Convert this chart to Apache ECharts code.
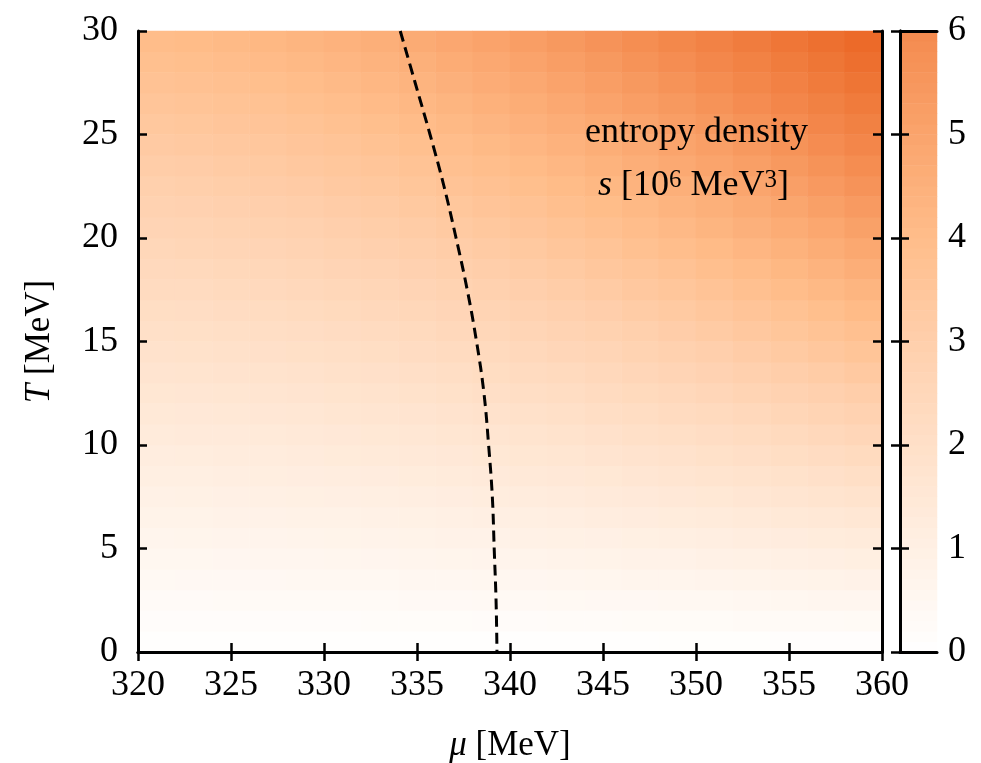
<!DOCTYPE html>
<html>
<head>
<meta charset="utf-8">
<script src="https://cdn.jsdelivr.net/npm/echarts@6/dist/echarts.min.js"></script>
<style>html,body{margin:0;padding:0;background:#fff}#c{width:981px;height:763px}</style>
</head>
<body>
<div id="c"></div>
<script>
// ---- data ----
// heatmap cell centres (mu in MeV, 2 MeV wide; T in MeV, 1 MeV high)
const muCenters = [321,323,325,327,329,331,333,335,337,339,341,343,345,347,349,351,353,355,357,359];
const tCenters = [0.5,1.5,2.5,3.5,4.5,5.5,6.5,7.5,8.5,9.5,10.5,11.5,12.5,13.5,14.5,15.5,16.5,17.5,18.5,19.5,
                  20.5,21.5,22.5,23.5,24.5,25.5,26.5,27.5,28.5,29.5];
// entropy density s [10^6 MeV^3]; one row per mu centre, values for T = 0.5 ... 29.5
const sByMu = [
 [0.06,0.18,0.31,0.43,0.55,0.68,0.81,0.94,1.06,1.19,1.32,1.46,1.59,1.72,1.86,1.99,2.13,2.27,2.41,2.55,2.69,2.83,2.97,3.12,3.26,3.41,3.56,3.70,3.85,4.00],
 [0.06,0.19,0.31,0.44,0.56,0.69,0.82,0.95,1.08,1.21,1.35,1.48,1.61,1.75,1.89,2.02,2.16,2.30,2.44,2.59,2.73,2.87,3.02,3.16,3.31,3.46,3.61,3.76,3.91,4.06],
 [0.06,0.19,0.32,0.45,0.57,0.71,0.84,0.97,1.10,1.24,1.37,1.51,1.65,1.79,1.92,2.07,2.21,2.35,2.49,2.64,2.78,2.93,3.08,3.23,3.37,3.53,3.68,3.83,3.98,4.14],
 [0.06,0.19,0.32,0.46,0.59,0.72,0.86,0.99,1.13,1.26,1.40,1.54,1.68,1.82,1.97,2.11,2.25,2.40,2.55,2.69,2.84,2.99,3.14,3.29,3.45,3.60,3.75,3.91,4.07,4.22],
 [0.07,0.20,0.33,0.47,0.60,0.74,0.88,1.02,1.16,1.30,1.44,1.58,1.73,1.87,2.02,2.16,2.31,2.46,2.61,2.76,2.91,3.07,3.22,3.38,3.53,3.69,3.85,4.01,4.17,4.33],
 [0.07,0.20,0.34,0.48,0.62,0.76,0.90,1.05,1.19,1.34,1.48,1.63,1.78,1.92,2.07,2.22,2.38,2.53,2.68,2.84,2.99,3.15,3.31,3.47,3.63,3.79,3.95,4.11,4.28,4.44],
 [0.07,0.21,0.35,0.50,0.64,0.79,0.93,1.08,1.23,1.38,1.53,1.68,1.83,1.98,2.14,2.29,2.45,2.61,2.76,2.92,3.08,3.25,3.41,3.57,3.73,3.90,4.07,4.23,4.40,4.57],
 [0.07,0.22,0.37,0.51,0.66,0.81,0.96,1.12,1.27,1.42,1.58,1.73,1.89,2.05,2.21,2.37,2.53,2.69,2.86,3.02,3.18,3.35,3.52,3.69,3.85,4.03,4.20,4.37,4.54,4.72],
 [0.08,0.23,0.38,0.53,0.69,0.84,1.00,1.16,1.31,1.47,1.63,1.80,1.96,2.12,2.29,2.45,2.62,2.79,2.95,3.12,3.29,3.46,3.64,3.81,3.98,4.16,4.34,4.51,4.69,4.87],
 [0.08,0.24,0.39,0.55,0.71,0.87,1.04,1.20,1.36,1.53,1.69,1.86,2.03,2.20,2.37,2.54,2.71,2.88,3.06,3.23,3.41,3.59,3.77,3.94,4.12,4.31,4.49,4.67,4.85,5.04],
 [0.08,0.24,0.41,0.57,0.74,0.91,1.08,1.25,1.42,1.59,1.76,1.93,2.11,2.28,2.46,2.64,2.82,3.00,3.18,3.36,3.54,3.72,3.91,4.09,4.28,4.47,4.65,4.84,5.03,5.23],
 [0.08,0.25,0.43,0.60,0.77,0.95,1.12,1.30,1.47,1.65,1.83,2.01,2.19,2.37,2.56,2.74,2.93,3.11,3.30,3.49,3.68,3.87,4.06,4.25,4.44,4.64,4.83,5.03,5.23,5.42],
 [0.09,0.27,0.44,0.62,0.80,0.98,1.17,1.35,1.53,1.72,1.91,2.09,2.28,2.47,2.66,2.85,3.04,3.24,3.43,3.63,3.82,4.02,4.22,4.42,4.62,4.82,5.02,5.23,5.43,5.64],
 [0.09,0.28,0.46,0.65,0.84,1.03,1.22,1.41,1.60,1.79,1.99,2.18,2.38,2.57,2.77,2.97,3.17,3.37,3.57,3.78,3.98,4.18,4.39,4.60,4.81,5.01,5.22,5.44,5.65,5.86],
 [0.10,0.29,0.48,0.68,0.87,1.07,1.27,1.47,1.67,1.87,2.07,2.27,2.48,2.68,2.89,3.10,3.30,3.51,3.72,3.93,4.15,4.36,4.57,4.79,5.00,5.22,5.44,5.66,5.88,6.10],
 [0.10,0.30,0.50,0.71,0.91,1.12,1.32,1.53,1.74,1.95,2.16,2.37,2.58,2.80,3.01,3.23,3.44,3.66,3.88,4.10,4.32,4.54,4.76,4.99,5.21,5.44,5.66,5.89,6.12,6.35],
 [0.10,0.32,0.53,0.74,0.95,1.17,1.38,1.60,1.82,2.04,2.26,2.48,2.70,2.92,3.14,3.37,3.59,3.82,4.05,4.28,4.51,4.74,4.97,5.20,5.44,5.67,5.91,6.14,6.38,6.62],
 [0.11,0.33,0.55,0.77,1.00,1.22,1.45,1.67,1.90,2.13,2.36,2.59,2.82,3.05,3.28,3.52,3.75,3.99,4.22,4.46,4.70,4.94,5.18,5.42,5.67,5.91,6.16,6.40,6.65,6.90],
 [0.11,0.34,0.58,0.81,1.04,1.27,1.51,1.75,1.98,2.22,2.46,2.70,2.94,3.18,3.43,3.67,3.91,4.16,4.41,4.66,4.90,5.15,5.41,5.66,5.91,6.16,6.42,6.68,6.93,7.19],
 [0.12,0.36,0.60,0.84,1.09,1.33,1.58,1.82,2.07,2.32,2.57,2.82,3.07,3.32,3.58,3.83,4.09,4.34,4.60,4.86,5.12,5.38,5.64,5.90,6.17,6.43,6.70,6.96,7.23,7.50]
];
// dashed phase-boundary line
const lineMu = [334.1,334.9,335.7,336.45,337.1,337.7,338.2,338.6,338.85,339.05,339.15,339.25,339.3];
const lineT  = [30,27.5,25,22.5,20,17.5,15,12.5,10,7.5,5,2.5,0];
// colour bar levels
const cbLevels = [0.05,0.15,0.25,0.35,0.45,0.55,0.65,0.75,0.85,0.95,1.05,1.15,1.25,1.35,1.45,1.55,1.65,1.75,1.85,1.95,
 2.05,2.15,2.25,2.35,2.45,2.55,2.65,2.75,2.85,2.95,3.05,3.15,3.25,3.35,3.45,3.55,3.65,3.75,3.85,3.95,
 4.05,4.15,4.25,4.35,4.45,4.55,4.65,4.75,4.85,4.95,5.05,5.15,5.25,5.35,5.45,5.55,5.65,5.75,5.85,5.95];
const xTicks = {min:320, max:360, interval:5};
const yTicks = {min:0, max:30, interval:5};
const cbTicks = {min:0, max:6, interval:1};

// ---- chart ----
const FONT = 'Liberation Serif';
const FS = 36;
const FN = 35;
const heatData = [];
for (let i = 0; i < muCenters.length; i++)
  for (let j = 0; j < tCenters.length; j++) heatData.push([i, j, sByMu[i][j]]);
const cbData = cbLevels.map((v, i) => [0, i, v]);
const lineData = lineMu.map((m, i) => [m, lineT[i]]);

const tickIn = {show:true, inside:true, length:9, lineStyle:{color:'#000', width:2.5}};
const axLine = {show:true, lineStyle:{color:'#000', width:3}};
const lab = {color:'#000', fontFamily:FONT, fontSize:FS};
const G = {left:138, top:31, width:744, height:621, outerBoundsMode:'none', containLabel:false};
const CB = {left:900, top:31, width:37, height:621, outerBoundsMode:'none', containLabel:false};
const nameStyle = {color:'#000', fontFamily:FONT, fontSize:FN,
  rich:{i:{fontStyle:'italic', fontFamily:FONT, fontSize:FN, color:'#000'}}};

const chart = echarts.init(document.getElementById('c'), null, {renderer:'canvas'});
chart.setOption({
  animation:false,
  backgroundColor:'#fff',
  grid:[Object.assign({show:false}, G), Object.assign({show:false}, G), Object.assign({show:false}, CB)],
  visualMap:{type:'continuous', show:false, min:0, max:8, dimension:2, seriesIndex:[0,2],
    inRange:{color:['#ffffff','#fff0e4','#ffe0c8','#ffcfac','#ffbd8a','#faa46c','#f48a4e','#ee7434','#e95f1e']}},
  xAxis:[
    {gridIndex:0, type:'category', data:muCenters, show:false},
    {gridIndex:1, type:'value', min:xTicks.min, max:xTicks.max, interval:xTicks.interval, position:'bottom', z:10,
      axisLine:axLine, axisTick:tickIn, splitLine:{show:false},
      axisLabel:Object.assign({margin:16}, lab),
      name:'{i|μ} [MeV]', nameLocation:'middle', nameGap:76, nameTextStyle:nameStyle},
    {gridIndex:1, type:'value', min:xTicks.min, max:xTicks.max, interval:xTicks.interval, position:'top', z:10,
      axisLine:axLine, axisTick:tickIn, splitLine:{show:false}, axisLabel:{show:false}},
    {gridIndex:2, type:'category', data:['c'], show:false},
    {gridIndex:2, type:'value', min:0, max:1, position:'bottom', z:10, axisLine:axLine, axisTick:{show:false}, axisLabel:{show:false}, splitLine:{show:false}},
    {gridIndex:2, type:'value', min:0, max:1, position:'top', z:10, axisLine:axLine, axisTick:{show:false}, axisLabel:{show:false}, splitLine:{show:false}}
  ],
  yAxis:[
    {gridIndex:0, type:'category', data:tCenters, show:false},
    {gridIndex:1, type:'value', min:yTicks.min, max:yTicks.max, interval:yTicks.interval, position:'left', z:10,
      axisLine:axLine, axisTick:tickIn, splitLine:{show:false},
      axisLabel:Object.assign({margin:20}, lab),
      name:'{i|T} [MeV]', nameLocation:'middle', nameGap:81, nameTextStyle:nameStyle},
    {gridIndex:1, type:'value', min:yTicks.min, max:yTicks.max, interval:yTicks.interval, position:'right', z:10,
      axisLine:axLine, axisTick:tickIn, splitLine:{show:false}, axisLabel:{show:false}},
    {gridIndex:2, type:'category', data:cbLevels, show:false},
    {gridIndex:2, type:'value', min:cbTicks.min, max:cbTicks.max, interval:cbTicks.interval, position:'right', z:10,
      axisLine:axLine, axisTick:tickIn, splitLine:{show:false}, axisLabel:Object.assign({margin:11}, lab)},
    {gridIndex:2, type:'value', min:cbTicks.min, max:cbTicks.max, interval:cbTicks.interval, position:'left', z:10,
      axisLine:axLine, axisTick:tickIn, splitLine:{show:false}, axisLabel:{show:false}}
  ],
  series:[
    {type:'heatmap', xAxisIndex:0, yAxisIndex:0, data:heatData, silent:true, emphasis:{disabled:true}, itemStyle:{borderWidth:0}},
    {type:'line', xAxisIndex:1, yAxisIndex:1, data:lineData, smooth:0.4, symbol:'none', silent:true, z:5,
      lineStyle:{color:'#000', width:3, type:[11,6]}},
    {type:'heatmap', xAxisIndex:3, yAxisIndex:3, data:cbData, silent:true, emphasis:{disabled:true}, itemStyle:{borderWidth:0}}
  ],
  graphic:[
    {type:'text', left:585, top:115, z:20, style:{text:'entropy density', fill:'#000', font:FS+'px "'+FONT+'"'}},
    {type:'text', left:598, top:168, z:20, style:{
      text:'{i|s} [10{sup|6} MeV{sup|3}]', fill:'#000', font:FS+'px "'+FONT+'"',
      rich:{
        i:{fontStyle:'italic', fontFamily:FONT, fontSize:FS, fill:'#000', verticalAlign:'bottom'},
        sup:{fontFamily:FONT, fontSize:25, fill:'#000', verticalAlign:'top'}
      }}}
  ]
});
</script>
</body>
</html>
